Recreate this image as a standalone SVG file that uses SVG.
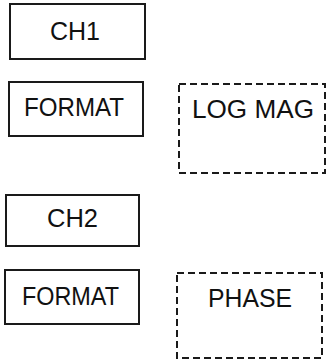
<svg xmlns="http://www.w3.org/2000/svg" width="327" height="364" viewBox="0 0 327 364">
<style>
.box{fill:#fff;stroke:#1a1a1a;stroke-width:2}
.dash{fill:none;stroke:#1a1a1a;stroke-width:2;stroke-dasharray:7 4}
text{font-family:"Liberation Sans",Arial,sans-serif;font-size:25px;fill:#111;text-anchor:middle}
</style>
<rect width="327" height="364" fill="#fff"/>
<g id="ch1"><rect class="box" x="10" y="4" width="135" height="55"/><text x="75" y="40" textLength="50" lengthAdjust="spacingAndGlyphs">CH1</text></g>
<g id="format1"><rect class="box" x="9" y="82" width="134" height="54"/><text x="74" y="116" textLength="100" lengthAdjust="spacingAndGlyphs">FORMAT</text></g>
<g id="logmag"><rect class="dash" x="179" y="84" width="146" height="89"/><text x="253" y="118" textLength="122" lengthAdjust="spacingAndGlyphs">LOG MAG</text></g>
<g id="ch2"><rect class="box" x="6" y="195" width="133" height="51"/><text x="72.500" y="227" textLength="51" lengthAdjust="spacingAndGlyphs">CH2</text></g>
<g id="format2"><rect class="box" x="5" y="270" width="134" height="54"/><text x="70.500" y="305" textLength="97" lengthAdjust="spacingAndGlyphs">FORMAT</text></g>
<g id="phase"><rect class="dash" x="177" y="273" width="145" height="85"/><text x="250" y="307" textLength="84" lengthAdjust="spacingAndGlyphs">PHASE</text></g>
<g id="connectors"></g>
</svg>
